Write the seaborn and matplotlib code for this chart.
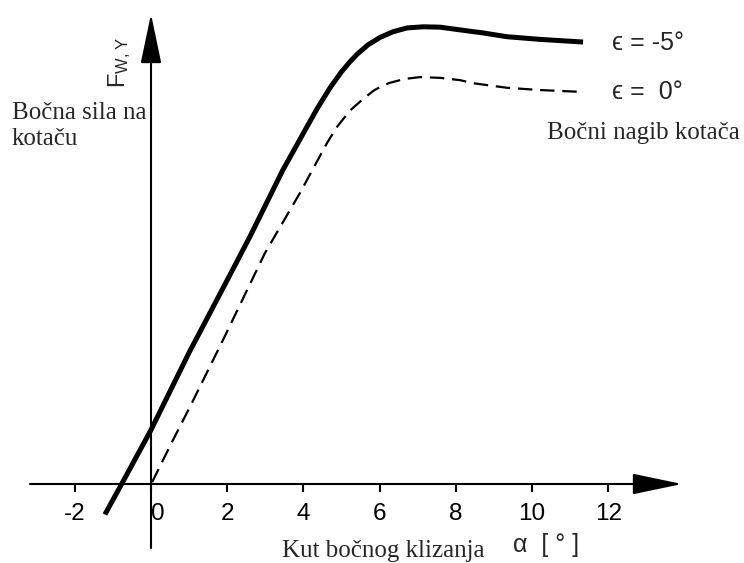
import numpy as np
import matplotlib
matplotlib.use("Agg")
import matplotlib.pyplot as plt
import seaborn as sns

# kut bocnog klizanja alpha [deg] i bocna sila (proizvoljne jedinice), ocitano sa slike
alpha_m5 = [-1.21, -0.77, 0.0, 1.0, 2.0, 2.6, 3.46, 4.09, 4.36, 4.70, 5.0, 5.22, 5.41,
            5.70, 6.01, 6.35, 6.72, 7.14, 7.59, 8.03, 8.71, 9.34, 10.21, 11.34]
force_m5 = [-0.80, 0.0, 1.42, 3.45, 5.35, 6.50, 8.24, 9.37, 9.85, 10.40, 10.82, 11.08, 11.28,
            11.53, 11.72, 11.87, 11.97, 12.00, 11.99, 11.93, 11.84, 11.74, 11.67, 11.60]

alpha_0 = [0.03, 0.55, 1.02, 1.89, 2.99, 3.91, 4.62, 4.88, 5.22, 5.56, 5.85, 6.09, 6.27,
           6.65, 7.06, 7.59, 8.11, 8.45, 9.34, 10.21, 11.34]
force_0 = [0.05, 1.10, 2.02, 3.78, 6.06, 7.64, 8.95, 9.37, 9.80, 10.10, 10.33, 10.46, 10.53,
           10.63, 10.68, 10.66, 10.60, 10.52, 10.40, 10.34, 10.29]

x_ticks = [-2, 0, 2, 4, 6, 8, 10, 12]
x_ticklabels = ["-2", "0", "2", "4", "6", "8", "10", "12"]

sns.set_theme(style="white")
plt.rcParams["font.family"] = ["Liberation Sans", "DejaVu Sans"]
plt.rcParams["mathtext.default"] = "regular"

W, H = 744, 563
X0, Y0, S = 151, 484, 38.1  # piksel nule i piksela po jedinici


def fx(px):
    return px / W


def fy(py):
    return 1 - py / H


fig = plt.figure(figsize=(7.44, 5.63), dpi=100)
ax = fig.add_axes([0, 0, 1, 1])
ax.set_xlim(-X0 / S, (W - X0) / S)
ax.set_ylim((Y0 - H) / S, Y0 / S)

sns.lineplot(x=alpha_m5, y=force_m5, ax=ax, color="black", lw=3.6,
             errorbar=None, solid_capstyle="butt", solid_joinstyle="round")
sns.lineplot(x=alpha_0, y=force_0, ax=ax, color="black", lw=1.6,
             errorbar=None, linestyle=(0, (6.5, 3.5)))

# osi sa strelicama
arrow = dict(arrowstyle="-|>,head_length=3.1,head_width=0.65", color="black",
             lw=1.5, shrinkA=0, shrinkB=0, mutation_scale=10)
ax.annotate("", xy=((682 - X0) / S, 0), xytext=((30 - X0) / S, 0), arrowprops=arrow)
ax.annotate("", xy=(0, (Y0 - 14) / S), xytext=(0, (Y0 - 548) / S), arrowprops=arrow)

for s in ax.spines.values():
    s.set_visible(False)
ax.spines["bottom"].set_position(("data", 0))
ax.set_yticks([])
ax.set_xticks(x_ticks)
ax.set_xticklabels(x_ticklabels)
ax.tick_params(axis="x", bottom=True, direction="out", length=6, width=1.5,
               pad=8, labelsize=17.5, color="black", labelcolor="black")
ax.get_xticklabels()[1].set_horizontalalignment("left")

serif = ["Liberation Serif", "DejaVu Serif"]
fig.text(fx(12), fy(102), "Bočna sila na\nkotaču", family=serif, fontsize=18,
         va="top", ha="left", linespacing=1.25)
fig.text(fx(740), fy(133), "Bočni nagib kotača", family=serif, fontsize=18,
         va="center", ha="right")
fig.text(fx(282), fy(551), "Kut bočnog klizanja", family=serif, fontsize=18,
         va="center", ha="left")
fig.text(fx(120), fy(63), "$F_{W,Y}$", fontsize=17, rotation=90,
         va="center", ha="center")
fig.text(fx(612), fy(43), "ϵ = -5°", fontsize=18, va="center", ha="left")
fig.text(fx(612), fy(92), "ϵ =  0°", fontsize=18, va="center", ha="left")
fig.text(fx(513), fy(545), "α  [ ° ]", fontsize=18, va="center", ha="left")

fig.savefig("out.png", dpi=100)
